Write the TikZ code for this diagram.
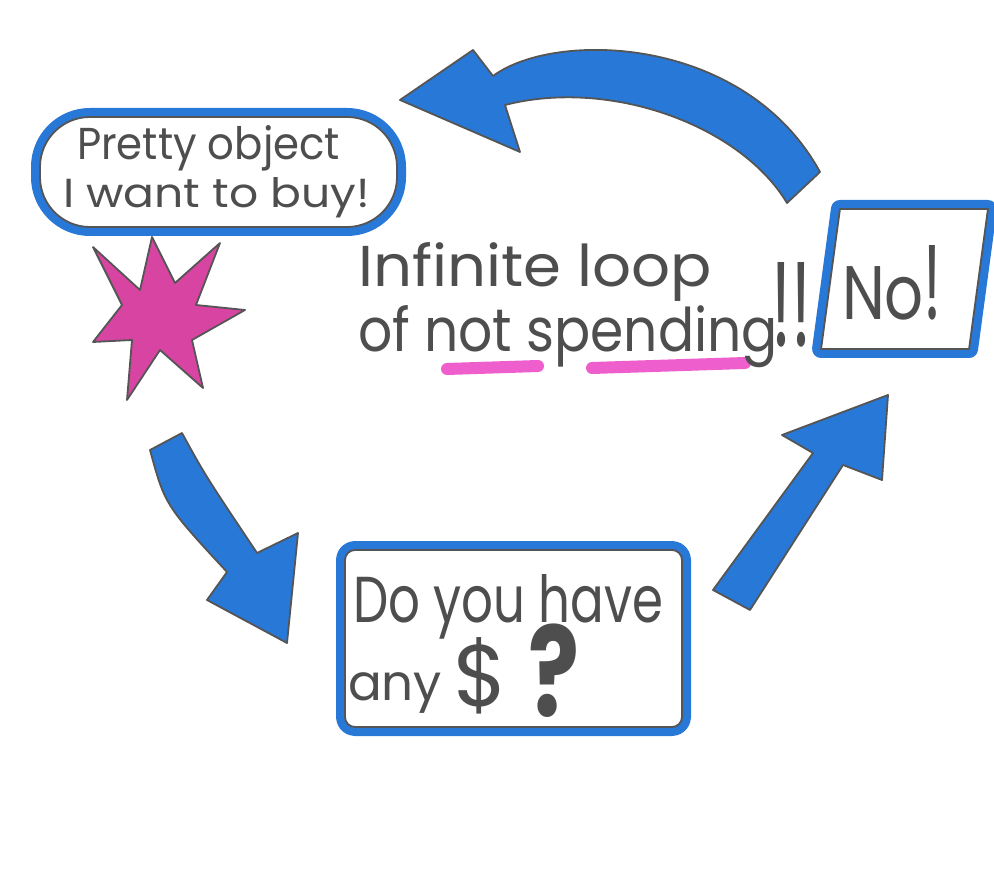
\documentclass[tikz,border=0pt]{standalone}
\usepackage{fontspec}
\setmainfont{Poppins}
\usepackage{graphicx}
\definecolor{crayon}{RGB}{40,120,215}
\definecolor{pencil}{RGB}{85,85,85}
\definecolor{ink}{RGB}{78,78,78}
\definecolor{starpink}{RGB}{216,68,162}
\definecolor{hilite}{RGB}{238,95,205}
\tikzset{
  txt/.style={anchor=base west, inner sep=0pt, outer sep=0pt, text=ink},
  boxstyle/.style={fill=white, draw=pencil, line width=0.9pt, line join=round,
    preaction={draw=crayon, line width=9pt, line join=round}},
  blockarrow/.style={fill=crayon, draw=pencil, line width=0.9pt, line join=round},
  hl/.style={draw=hilite, line width=6pt, line cap=round},
  starstyle/.style={fill=starpink, draw=pencil, line width=0.9pt, line join=round}
}
\begin{document}
\begin{tikzpicture}[x=0.5pt,y=-0.5pt]
\useasboundingbox (0,0) rectangle (994,870);
\fill[white] (0,0) rectangle (994,870);

% boxes
\node[boxstyle, rounded corners=25pt, minimum width=178.5pt, minimum height=55pt] (want) at (218.5,172) {};
\node[boxstyle, xslant=0.135, minimum width=74pt, minimum height=70pt] (no) at (904.5,279) {};
\node[boxstyle, rounded corners=5pt, minimum width=168.5pt, minimum height=88.5pt] (ask) at (513.5,638.5) {};

% star
\draw[starstyle] (93,247) -- (140,290) -- (152,237) -- (175,283) -- (220,243) -- (196,305)
  -- (245,310) -- (192,340) -- (203,388) -- (160,350) -- (127,400) -- (132,340)
  -- (93,342) -- (122,305) -- cycle;

% arrows
\draw[blockarrow] (400,100) -- (473,50) -- (493,76) .. controls (555,30) and (745,35) .. (820,172)
  -- (787,203) .. controls (740,125) and (610,78) .. (505,105) -- (520,152) -- cycle;
\draw[blockarrow] (150,450) -- (182,433) .. controls (205,475) .. (257,553) -- (298,533)
  -- (287,643) -- (207,600) -- (227,572) .. controls (165,505) .. (150,450) -- cycle;
\draw[blockarrow] (713,590) -- (750,610) -- (843,465) -- (882,480) -- (888,395)
  -- (782,435) -- (813,453) -- cycle;

% highlighter
\draw[hl] (447,369) -- (538,366);
\draw[hl] (592,368) -- (745,363);

% texts
\node[txt] (t1) at (77,160) {\resizebox{131.5pt}{17pt}{Pretty object}};
\node[txt] (t2) at (63,208) {\resizebox{153.5pt}{15pt}{I want to buy!}};
\node[txt] (t3) at (358,287) {\resizebox{177pt}{22pt}{Infinite loop}};
\node[txt] (t4) at (358,352) {\resizebox{210pt}{23pt}{of not spending}};
\node[txt] (t5) at (771,347) {\resizebox{20pt}{42pt}{!!}};
\node[txt] (t6) at (842,320) {\resizebox{50pt}{37pt}{No\scalebox{1}[1.4]{!}}};
\node[txt] (t7) at (353,622) {\resizebox{155pt}{24pt}{Do you have}};
\node[txt, font=\fontsize{25}{30}\selectfont] (t8) at (348,700)
  {any\hspace{6pt}\raisebox{-3pt}{\scalebox{1.75}{\$}}\hspace{10pt}\raisebox{-8pt}{\scalebox{1.9}[2.5]{\bfseries ?}}};
\end{tikzpicture}
\end{document}
